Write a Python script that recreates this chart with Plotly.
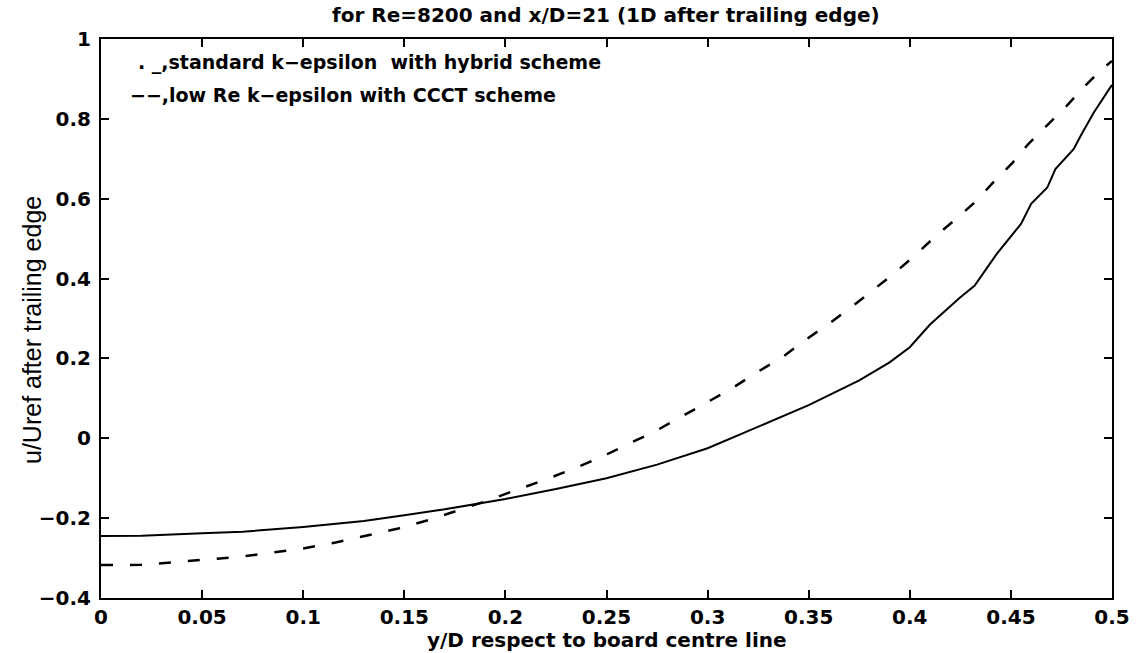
import plotly.graph_objects as go

# Velocity profiles 1D downstream of the trailing edge (Re=8200, x/D=21)
# Low Re k-epsilon with CCCT scheme (dashed)
y_over_d_lowre = [0.0, 0.02, 0.035, 0.05, 0.067, 0.084, 0.1, 0.116, 0.131, 0.147,
                  0.162, 0.1775, 0.19, 0.204, 0.219, 0.233, 0.247, 0.26, 0.2735,
                  0.286, 0.299, 0.312, 0.324, 0.337, 0.348, 0.36, 0.371, 0.382,
                  0.393, 0.403, 0.4125, 0.423, 0.433, 0.442, 0.451, 0.4586,
                  0.4677, 0.4776, 0.4858, 0.4949, 0.5]
u_lowre = [-0.3175, -0.317, -0.311, -0.304, -0.298, -0.287, -0.276, -0.261, -0.244,
           -0.226, -0.205, -0.18, -0.158, -0.132, -0.105, -0.0775, -0.048, -0.016,
           0.016, 0.051, 0.087, 0.125, 0.164, 0.203, 0.245, 0.287, 0.328, 0.372,
           0.416, 0.46, 0.505, 0.55, 0.595, 0.645, 0.691, 0.737, 0.7825, 0.8325,
           0.878, 0.924, 0.945]

# Standard k-epsilon with hybrid scheme (solid)
y_over_d_std = [0.0, 0.02, 0.05, 0.07, 0.1, 0.13, 0.15, 0.17, 0.2, 0.225, 0.25,
                0.275, 0.3, 0.325, 0.35, 0.375, 0.39, 0.4, 0.41, 0.425, 0.432,
                0.443, 0.455, 0.46, 0.468, 0.472, 0.481, 0.485, 0.491, 0.5]
u_std = [-0.245, -0.244, -0.238, -0.234, -0.222, -0.207, -0.193, -0.178, -0.152,
         -0.127, -0.1, -0.066, -0.025, 0.03, 0.083, 0.145, 0.19, 0.228, 0.285,
         0.353, 0.382, 0.462, 0.537, 0.587, 0.628, 0.674, 0.724, 0.762, 0.816,
         0.885]

x_tick_vals = [0, 0.05, 0.1, 0.15, 0.2, 0.25, 0.3, 0.35, 0.4, 0.45, 0.5]
x_tick_text = ["0", "0.05", "0.1", "0.15", "0.2", "0.25", "0.3", "0.35", "0.4", "0.45", "0.5"]
y_tick_vals = [-0.4, -0.2, 0, 0.2, 0.4, 0.6, 0.8, 1]
y_tick_text = ["\u22120.4", "\u22120.2", "0", "0.2", "0.4", "0.6", "0.8", "1"]

legend_lines = [
    ". _,standard k\u2212epsilon  with hybrid scheme",
    "\u2212\u2212,low Re k\u2212epsilon with CCCT scheme",
]

W, H = 1142, 653
FONT = "DejaVu Sans"
PLOT_W, PLOT_H = W - 131, H - 94

fig = go.Figure()
fig.add_trace(go.Scatter(x=y_over_d_std, y=u_std, mode="lines",
                         line=dict(color="black", width=2), showlegend=False))
fig.add_trace(go.Scatter(x=y_over_d_lowre, y=u_lowre, mode="lines",
                         line=dict(color="black", width=2.5, dash="12px,17px"),
                         showlegend=False))

axis_common = dict(
    showgrid=False, zeroline=False, showline=True, linecolor="black", linewidth=2,
    mirror="ticks", ticks="inside", ticklen=8, tickwidth=2, tickcolor="black",
    tickfont=dict(family=FONT, size=20, color="black", weight="bold"),
)

fig.update_layout(
    width=W, height=H,
    margin=dict(l=101, r=30, t=39, b=55),
    paper_bgcolor="white", plot_bgcolor="white",
    title=dict(text="for Re=8200 and x/D=21 (1D after trailing edge)",
               font=dict(family=FONT, size=20, color="black", weight="bold"),
               x=0.5305, xanchor="center", y=1 - 15 / H, yanchor="middle",
               yref="container"),
    xaxis=dict(range=[0, 0.5], tickvals=x_tick_vals, ticktext=x_tick_text,
               ticklabelstandoff=0, **axis_common),
    yaxis=dict(range=[-0.4, 1], tickvals=y_tick_vals, ticktext=y_tick_text,
               ticklabelstandoff=4, **axis_common),
)

# x-axis caption
fig.add_annotation(text="y/D respect to board centre line", xref="paper", yref="paper",
                   x=0.5, y=-42 / PLOT_H, xanchor="center", yanchor="middle",
                   showarrow=False,
                   font=dict(family=FONT, size=20, color="black", weight="bold"))
# y-axis caption
fig.add_annotation(text="u/Uref after trailing edge", xref="paper", yref="paper",
                   x=-69 / PLOT_W, y=(598 - 330) / PLOT_H, xanchor="center",
                   yanchor="middle", textangle=-90, showarrow=False,
                   font=dict(family="Liberation Sans Narrow, Liberation Sans", size=25,
                             color="black"))

# model key written inside the axes
fig.add_annotation(text=legend_lines[0], x=0.0173, y=0.94, xanchor="left",
                   yanchor="middle", showarrow=False,
                   font=dict(family=FONT, size=19, color="black", weight="bold"))
fig.add_annotation(text=legend_lines[1], x=0.0134, y=0.86, xanchor="left",
                   yanchor="middle", showarrow=False,
                   font=dict(family=FONT, size=19, color="black", weight="bold"))

fig.write_html("out.html")
